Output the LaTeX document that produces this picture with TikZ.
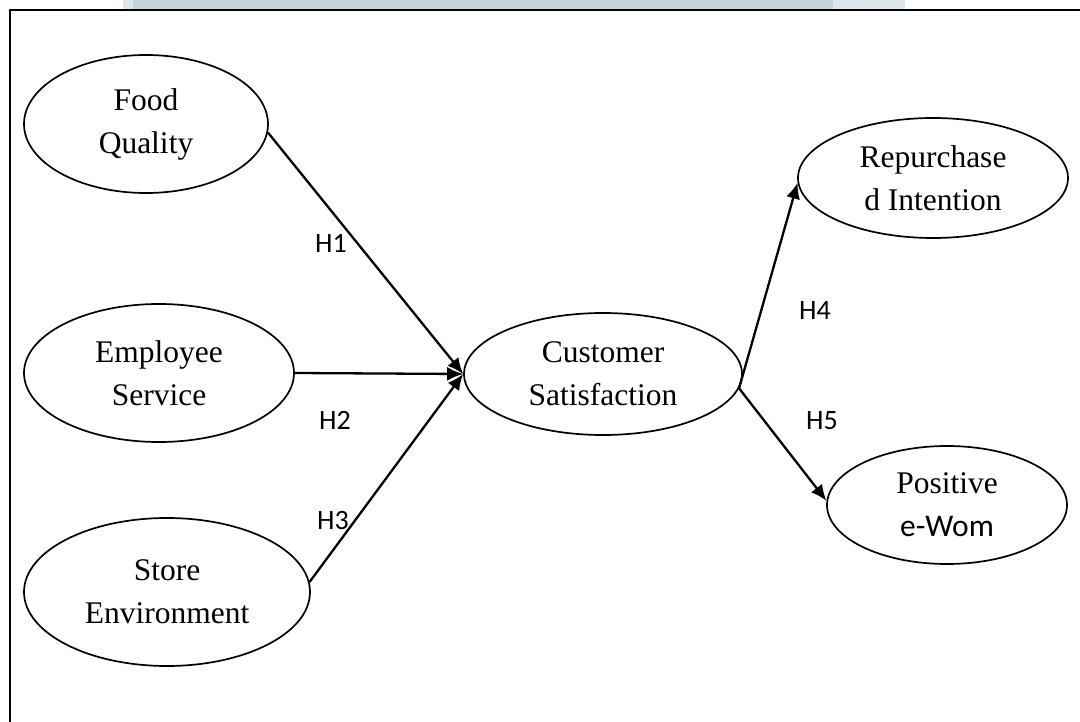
\documentclass[tikz,border=0pt]{standalone}
\usepackage{fontspec}
\setmainfont{Liberation Serif}
\newfontfamily\calibri{Carlito}
\usetikzlibrary{shapes.geometric}
\usetikzlibrary{arrows.meta}

\definecolor{stripdark}{RGB}{194,212,218}
\definecolor{striplight}{RGB}{222,232,236}

\begin{document}
\begin{tikzpicture}[x=1pt,y=-1pt,
		construct/.style={draw,ellipse,line width=1.7pt,inner sep=0pt,align=center,font=\fontsize{31.5}{43}\selectfont},
		link/.style={line width=2.3pt,-{Latex[length=16pt,width=14pt]}},
		hyp/.style={font=\calibri\fontsize{28}{32}\selectfont}]
		\useasboundingbox (0,0) rectangle (1080,722);
		\fill[striplight] (123,0) rectangle (905,9);
		\fill[stripdark] (133,0) rectangle (833,9);
		\draw[line width=2.4pt] (10,722) -- (10,10) -- (1080,10);
		\node[construct,minimum width=244pt,minimum height=138pt] (food) at (146,124) {Food\\Quality};
		\node[construct,minimum width=270pt,minimum height=138pt] (staff) at (159,373) {Employee\\Service};
		\node[construct,minimum width=286pt,minimum height=148pt] (store) at (167,592) {Store\\Environment};
		\node[construct,minimum width=278pt,minimum height=122pt] (satis) at (603,374) {Customer\\Satisfaction};
		\node[construct,minimum width=270pt,minimum height=120pt] (repur) at (933,178) {Repurchase\\d Intention};
		\node[construct,minimum width=240pt,minimum height=118pt] (ewom) at (947,505) {Positive\\{\calibri e-Wom}};
		\draw[link] (food.-4) -- (satis.west);
		\draw[link] (staff.east) -- (satis.west);
		\draw[link] (store.4) -- (satis.west);
		\draw[link] (satis.-6) -- (repur.182);
		\draw[link] (satis.-6) -- (ewom.178);
		\node[hyp] (h1) at (331,243) {H1};
		\node[hyp] (h2) at (335,420) {H2};
		\node[hyp] (h3) at (333,521) {H3};
		\node[hyp] (h4) at (815,311) {H4};
		\node[hyp] (h5) at (822,421) {H5};
	\end{tikzpicture}
\end{document}
